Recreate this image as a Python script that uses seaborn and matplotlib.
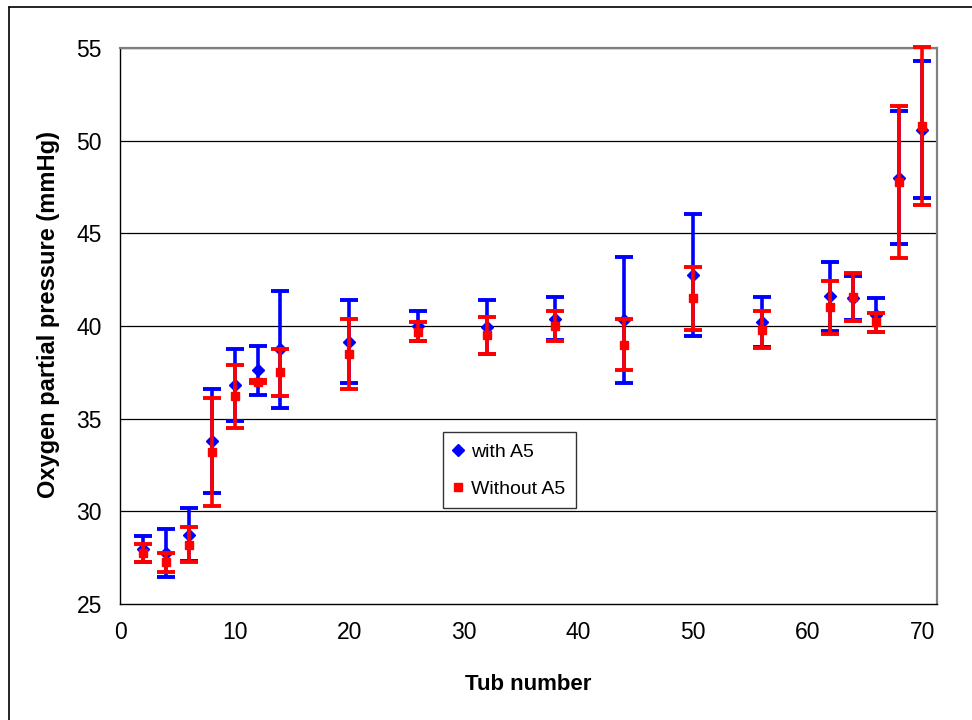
"""
Oxygen partial pressure per tub, with and without A5
"""
import numpy as np
import matplotlib
matplotlib.use("Agg")
import matplotlib.pyplot as plt
from matplotlib.lines import Line2D
import seaborn as sns

# Tub numbers
tubs = [2, 4, 6, 8, 10, 12, 14, 20, 26, 32, 38, 44, 50, 56, 62, 64, 66, 68, 70]

# with A5: mean and error
with_mean = [27.95, 27.75, 28.75, 33.8, 36.8, 37.6, 38.75, 39.15, 40.0, 39.95,
             40.4, 40.35, 42.75, 40.2, 41.6, 41.5, 40.6, 48.0, 50.6]
with_err = [0.7, 1.3, 1.45, 2.8, 1.95, 1.33, 3.15, 2.25, 0.8, 1.45,
            1.15, 3.4, 3.3, 1.35, 1.85, 1.2, 0.9, 3.6, 3.7]

# Without A5: mean and error
without_mean = [27.75, 27.25, 28.2, 33.2, 36.2, 37.0, 37.5, 38.5, 39.7, 39.5,
                40.0, 39.0, 41.5, 39.8, 41.0, 41.55, 40.2, 47.75, 50.8]
without_err = [0.5, 0.52, 0.95, 2.9, 1.7, 0.1, 1.25, 1.9, 0.5, 1.0,
               0.8, 1.4, 1.7, 1.0, 1.45, 1.3, 0.5, 4.1, 4.25]

y_ticks = [25, 30, 35, 40, 45, 50, 55]
x_ticks = [0, 10, 20, 30, 40, 50, 60, 70]


def draw_chart():
    sns.set_style("white")
    plt.rcParams['font.family'] = ['Liberation Sans', 'DejaVu Sans']
    plt.rcParams['text.color'] = 'black'
    plt.rcParams['axes.labelcolor'] = 'black'
    plt.rcParams['xtick.color'] = 'black'
    plt.rcParams['ytick.color'] = 'black'

    fig = plt.figure(figsize=(9.72, 7.2), dpi=100)
    ax = fig.add_axes([0.1235, 0.1611, 0.8405, 0.7722])

    # horizontal grid lines
    for y in y_ticks[1:]:
        ax.axhline(y, color='black', lw=0.9, zorder=0)

    # with A5 first, Without A5 drawn on top
    ax.errorbar(tubs, with_mean, yerr=with_err, fmt='D', color='#0000FF',
                ecolor='#0000FF', markersize=6, elinewidth=2.6, capsize=6.5,
                capthick=2.8, clip_on=False, zorder=3)
    ax.errorbar(tubs, without_mean, yerr=without_err, fmt='s', color='#FF0000',
                ecolor='#FF0000', markersize=5.5, elinewidth=2.6, capsize=6.5,
                capthick=2.8, clip_on=False, zorder=4)

    ax.set_xlim(0, 71.3)
    ax.set_ylim(25, 55)
    ax.set_xticks(x_ticks)
    ax.set_yticks(y_ticks)
    ax.tick_params(axis='both', which='major', direction='out', length=5,
                   width=1, color='black', labelsize=16.5, labelcolor='black')
    ax.tick_params(axis='y', pad=8)
    ax.tick_params(axis='x', pad=7)

    for side in ['left', 'bottom']:
        ax.spines[side].set_color('black')
        ax.spines[side].set_linewidth(1)
    for side in ['top', 'right']:
        ax.spines[side].set_color('#808080')
        ax.spines[side].set_linewidth(1.6)

    ax.set_xlabel('Tub number', fontsize=16, fontweight='bold', color='black')
    ax.set_ylabel('Oxygen partial pressure (mmHg)', fontsize=17,
                  fontweight='bold', color='black')
    ax.xaxis.set_label_coords(0.5, -0.126)
    ax.yaxis.set_label_coords(-0.074, 0.52)

    handles = [
        Line2D([], [], marker='D', color='#0000FF', linestyle='none', markersize=6),
        Line2D([], [], marker='s', color='#FF0000', linestyle='none', markersize=6),
    ]
    leg = ax.legend(handles, ['with A5', 'Without A5'], loc='upper left',
                    bbox_to_anchor=(0.395, 0.309), fontsize=14, frameon=True,
                    fancybox=False, shadow=False, handlelength=0.5,
                    handletextpad=0.4, borderpad=0.55, labelspacing=1.0,
                    borderaxespad=0)
    leg.get_frame().set_edgecolor('black')
    leg.get_frame().set_linewidth(1)

    # outer frame (left and top edges)
    fig.add_artist(Line2D([0.009, 0.009], [0, 0.99], color='black', lw=1.2,
                          transform=fig.transFigure))
    fig.add_artist(Line2D([0.009, 1], [0.99, 0.99], color='black', lw=1.2,
                          transform=fig.transFigure))

    fig.savefig('out.png', dpi=100)


if __name__ == "__main__":
    draw_chart()
